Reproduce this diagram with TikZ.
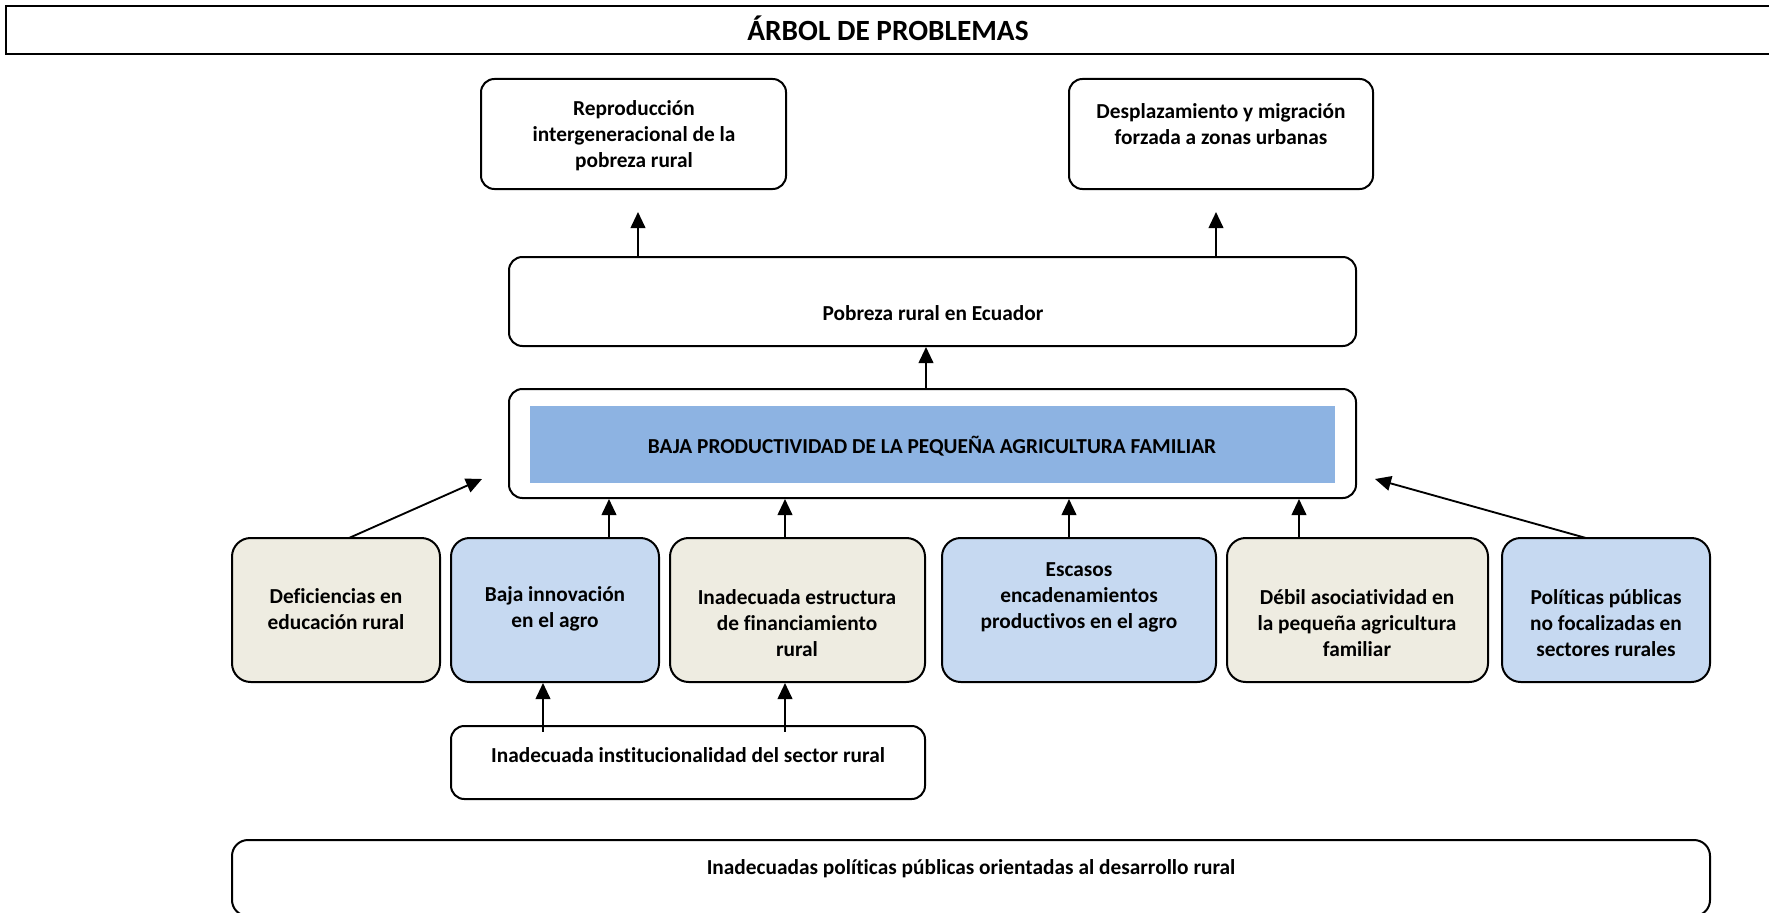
\documentclass[tikz,border=0pt]{standalone}
\usepackage{fontspec}
\setmainfont{Carlito}[Ligatures=CommonOff]
\usetikzlibrary{arrows.meta,fit}
\definecolor{beige}{HTML}{EEECE1}
\definecolor{lblue}{HTML}{C6D9F1}
\definecolor{mblue}{HTML}{8DB3E2}
\begin{document}
\begin{tikzpicture}[x=0.75pt,y=-0.75pt,
  box/.style={draw=black, line width=1.5pt, rounded corners=10pt, fill=white, inner sep=0pt},
  cbox/.style={box, rounded corners=14pt},
  txt/.style={font=\fontsize{16}{19.5}\selectfont\bfseries, align=center, inner sep=0pt},
  arr/.style={-{Triangle[length=12pt,width=11pt]}, line width=1.4pt}]
\useasboundingbox (0,0) rectangle (1769,913);

% title
\node[draw=black, line width=1.5pt, inner sep=0pt, fit={(6,6) (1790,54)}] (title) {};
\node[txt, font=\fontsize{22}{26}\selectfont\bfseries] at (888,28) {ÁRBOL DE PROBLEMAS};

% effects
\node[box, fit={(481,79) (786,189)}] (rep) {};
\node[txt] at (634,136) {Reproducción\\intergeneracional de la\\pobreza rural};
\node[box, fit={(1069,79) (1373,189)}] (des) {};
\node[txt] at (1221,124) {Desplazamiento y migración\\forzada a zonas urbanas};

% central
\node[box, fit={(509,257) (1356,346)}] (pob) {};
\node[txt] at (933,313) {Pobreza rural en Ecuador};

\node[box, fit={(509,389) (1356,498)}] (baja) {};
\node[fill=mblue, inner sep=0pt, fit={(530,406) (1335,483)}] (bajain) {};
\node[txt] at (932,446) {BAJA PRODUCTIVIDAD DE LA PEQUEÑA AGRICULTURA FAMILIAR};

% causes
\node[cbox, fill=beige, fit={(232,538) (440,682)}] (def) {};
\node[txt] at (336,609) {Deficiencias en\\educación rural};
\node[cbox, fill=lblue, fit={(451,538) (659,682)}] (inn) {};
\node[txt] at (555,609) {Baja innovación\\en el agro};
\node[cbox, fill=beige, fit={(670,538) (925,682)}] (fin) {};
\node[txt] at (797,623) {Inadecuada estructura\\de financiamiento\\rural};
\node[cbox, fill=lblue, fit={(942,538) (1216,682)}] (enc) {};
\node[txt] at (1079,597) {Escasos\\encadenamientos\\productivos en el agro};
\node[cbox, fill=beige, fit={(1227,538) (1488,682)}] (aso) {};
\node[txt] at (1357,623) {Débil asociatividad en\\la pequeña agricultura\\familiar};
\node[cbox, fill=lblue, fit={(1502,538) (1710,682)}] (pol) {};
\node[txt] at (1606,623) {Políticas públicas\\no focalizadas en\\sectores rurales};

% root causes
\node[box, fit={(451,726) (925,799)}] (ins) {};
\node[txt] at (688,755) {Inadecuada institucionalidad del sector rural};
\node[cbox, rounded corners=12pt, fit={(232,840) (1710,916)}] (pp) {};
\node[txt] at (971,869) {Inadecuadas políticas públicas orientadas al desarrollo rural};

% free arrow ends
\coordinate (e1) at (638,212);
\coordinate (e2) at (1216,212);
\coordinate (e3) at (482,479);
\coordinate (e4) at (1375,479);
\coordinate (s3) at (349,538);
\coordinate (s4) at (1586,538);
\coordinate (f1) at (543,682);
\coordinate (f2) at (785,682);

% arrows
\draw[arr] (e1 |- pob.north) -- (e1);
\draw[arr] (e2 |- pob.north) -- (e2);
\draw[arr] (baja.north -| 926,0) -- (pob.south -| 926,0);
\draw[arr] (s3) -- (e3);
\draw[arr] (s4) -- (e4);
\draw[arr] (inn.north -| 609,0) -- (baja.south -| 609,0);
\draw[arr] (fin.north -| 785,0) -- (baja.south -| 785,0);
\draw[arr] (enc.north -| 1069,0) -- (baja.south -| 1069,0);
\draw[arr] (aso.north -| 1299,0) -- (baja.south -| 1299,0);
\draw[arr] ([yshift=-5pt]f1 |- ins.north) -- (f1 |- inn.south);
\draw[arr] ([yshift=-5pt]f2 |- ins.north) -- (f2 |- fin.south);
\end{tikzpicture}
\end{document}
